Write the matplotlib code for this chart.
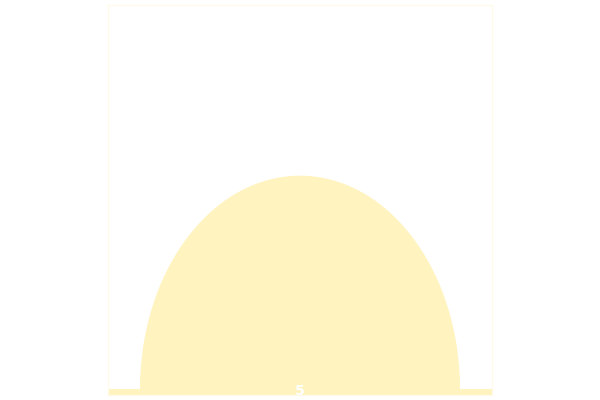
import numpy as np
import matplotlib
matplotlib.use("Agg")
import matplotlib.pyplot as plt

# single value shown as a half-ellipse sitting on a base strip
labels = ["5"]
values = [5]

fill_color = "#FFF3BF"
fig = plt.figure(figsize=(6, 4), dpi=100)
ax = fig.add_axes([108 / 600, 5 / 400, 384 / 600, 390 / 400])

r = values[0]
t = np.linspace(0, np.pi, 200)
ax.fill(r * np.cos(t), r * np.sin(t), color=fill_color, lw=0)
# base strip
ax.fill_between([-6, 6], -0.14, 0.0, color=fill_color, lw=0)

ax.text(0, -0.05, labels[0], color="white", fontsize=10, fontweight="bold",
        ha="center", va="center")

ax.set_xlim(-6, 6)
ax.set_ylim(-0.14, 9)
ax.set_xticks([])
ax.set_yticks([])
for s in ax.spines.values():
    s.set_color("#FFFAEA")
    s.set_linewidth(1)

fig.savefig("out.png", dpi=100)
